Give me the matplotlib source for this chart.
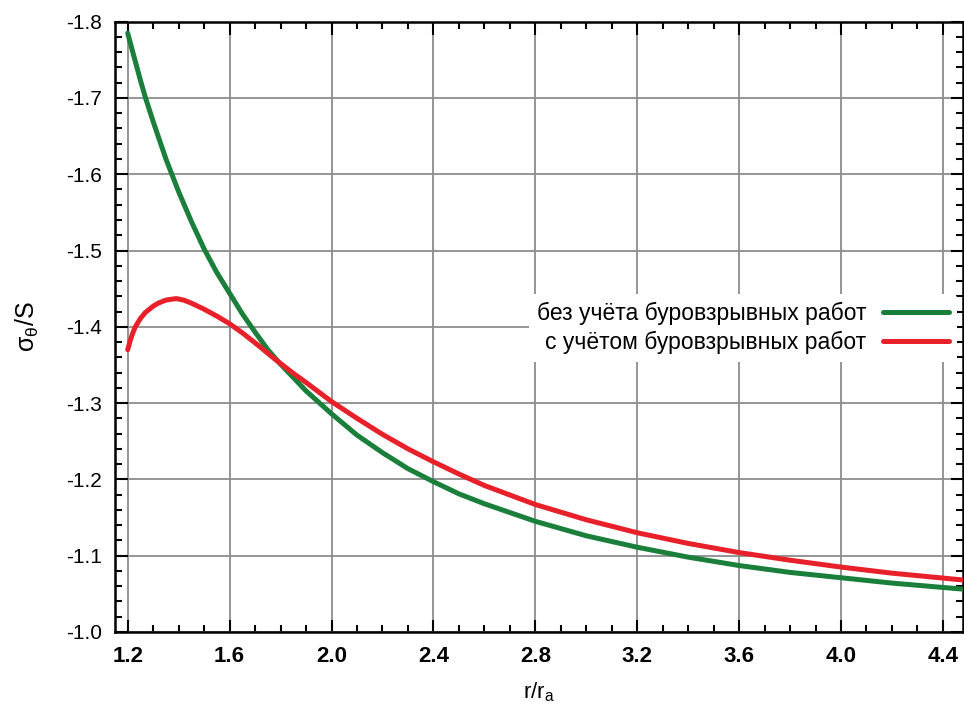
import numpy as np
import matplotlib.pyplot as plt
from matplotlib.ticker import MultipleLocator

# --- Data ---
r_green = [1.20, 1.22, 1.25, 1.27, 1.30, 1.35, 1.40, 1.45, 1.50, 1.55, 1.60, 1.65,
           1.70, 1.75, 1.80, 1.90, 2.00, 2.10, 2.20, 2.30, 2.40, 2.50, 2.60, 2.80,
           3.00, 3.20, 3.40, 3.60, 3.80, 4.00, 4.20, 4.48]
s_green = [-1.785, -1.760, -1.723, -1.700, -1.669, -1.620, -1.577, -1.538, -1.502,
           -1.471, -1.444, -1.417, -1.393, -1.370, -1.351, -1.316, -1.286, -1.258,
           -1.235, -1.214, -1.197, -1.181, -1.168, -1.145, -1.126, -1.111, -1.098,
           -1.087, -1.078, -1.071, -1.064, -1.056]

r_red = [1.20, 1.21, 1.22, 1.23, 1.25, 1.27, 1.30, 1.32, 1.35, 1.39, 1.42, 1.45,
         1.50, 1.55, 1.60, 1.65, 1.70, 1.78, 1.85, 1.90, 2.00, 2.10, 2.20, 2.30,
         2.40, 2.50, 2.60, 2.80, 3.00, 3.20, 3.40, 3.60, 3.80, 4.00, 4.20, 4.48]
s_red = [-1.370, -1.382, -1.392, -1.400, -1.411, -1.419, -1.427, -1.431, -1.435,
         -1.437, -1.435, -1.431, -1.423, -1.414, -1.404, -1.392, -1.379, -1.357,
         -1.339, -1.327, -1.302, -1.280, -1.259, -1.240, -1.223, -1.207, -1.192,
         -1.167, -1.147, -1.130, -1.116, -1.104, -1.094, -1.085, -1.077, -1.068]

label_green = "без учёта буровзрывных работ"
label_red = "с учётом буровзрывных работ"

# --- Plotting ---
plt.rcParams['font.family'] = ['Liberation Sans', 'DejaVu Sans']

fig = plt.figure(figsize=(9.64, 7.23), dpi=100)
ax = fig.add_axes([0.119, 0.126, 0.880, 0.844])

ax.plot(r_green, s_green, color='#1a7f3a', lw=3.6, label=label_green, zorder=3,
        solid_capstyle='round', solid_joinstyle='round')
ax.plot(r_red, s_red, color='#e8202a', lw=3.6, label=label_red, zorder=3,
        solid_capstyle='round', solid_joinstyle='round')

ax.set_xlim(1.149, 4.479)
ax.set_ylim(-1.0, -1.8)  # inverted: -1.0 at bottom

ax.xaxis.set_major_locator(MultipleLocator(0.4))
ax.xaxis.set_minor_locator(MultipleLocator(0.1))
ax.yaxis.set_major_locator(MultipleLocator(0.1))
ax.yaxis.set_minor_locator(MultipleLocator(0.02))
ax.xaxis.set_major_formatter(lambda v, p: f"{v:.1f}")
ax.yaxis.set_major_formatter(lambda v, p: f"{v:.1f}")

ax.grid(True, which='major', color='#8c8c8c', lw=1.3, zorder=1)
ax.tick_params(which='both', direction='in', top=True, right=True, width=1.5)
ax.tick_params(which='major', length=9)
ax.tick_params(axis='y', which='major', pad=9, labelsize=15)
ax.tick_params(axis='x', which='major', pad=10, labelsize=16)
ax.tick_params(which='minor', length=5)
for lab in ax.get_xticklabels():
    lab.set_fontweight('bold')
for s in ax.spines.values():
    s.set_linewidth(1.8)

ax.set_xlabel(r'r/r$_\mathregular{a}$', fontsize=16, labelpad=10)
ax.set_ylabel(r'$\mathregular{\sigma_\theta}$/S', fontsize=18, labelpad=18)

leg = ax.legend(loc='center right', bbox_to_anchor=(0.993, 0.498), borderaxespad=0,
                markerfirst=False, fontsize=16.5, frameon=True, handlelength=2.9,
                handletextpad=0.7, labelspacing=0.25, borderpad=0.35)
leg.get_frame().set_facecolor('white')
leg.get_frame().set_edgecolor('none')
leg.get_frame().set_alpha(1.0)
for t in leg.get_texts():
    t.set_ha('right')

fig.savefig('out.png', dpi=100)
